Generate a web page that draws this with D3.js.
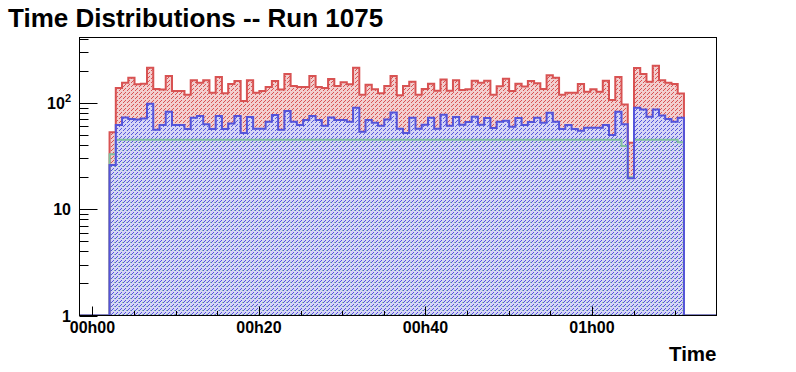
<!DOCTYPE html>
<html>
<head>
<meta charset="utf-8">
<script src="https://cdn.jsdelivr.net/npm/d3@7"></script>
<style>
  body { margin: 0; background: #fff; }
  svg { display: block; }
  text { font-family: "Liberation Sans", Arial, sans-serif; font-weight: bold; fill: #000; }
</style>
</head>
<body>
<div id="chart"></div>
<script>
// Histogram binning (minutes since start of run)
const binStart = 2.05;
const binWidth = 0.75;

// All events (red)
const totalCounts = [
  52.7, 138, 154, 172, 149, 151, 213, 135, 133, 179,
  129, 129, 119, 163, 154, 163, 124, 175, 123, 150,
  160, 104, 163, 124, 129, 141, 160, 133, 186, 144,
  141, 141, 179, 141, 138, 167, 144, 156, 149, 213,
  119, 148, 134, 123, 144, 179, 118, 144, 158, 119,
  135, 151, 130, 166, 130, 163, 132, 134, 161, 154,
  161, 119, 143, 168, 129, 151, 142, 160, 153, 135,
  182, 172, 119, 124, 124, 150, 127, 134, 127, 161,
  106, 175, 96.5, 42.1, 212, 186, 158, 223, 163, 154,
  150, 122
];

// Selected events (blue)
const blueCounts = [
  26.0, 61.7, 72.9, 70.3, 69.8, 71.3, 97.9, 55.8, 61.7, 82.4,
  61.7, 61.7, 56.6, 72.3, 75.0, 62.7, 56.6, 75.0, 56.6, 64.0,
  75.0, 51.9, 73.4, 57.0, 57.0, 66.4, 76.6, 55.8, 83.6, 66.4,
  61.7, 68.8, 75.0, 68.8, 60.9, 72.9, 68.8, 68.8, 66.4, 89.8,
  53.5, 68.8, 64.9, 60.9, 69.8, 81.2, 57.0, 51.9, 72.3, 57.0,
  62.2, 72.3, 57.0, 77.2, 60.9, 73.4, 62.2, 65.9, 73.9, 62.2,
  71.8, 57.9, 66.4, 67.8, 59.6, 71.8, 61.7, 65.9, 72.3, 64.9,
  80.6, 66.4, 56.6, 61.7, 56.6, 54.6, 58.3, 58.3, 58.3, 61.7,
  49.7, 82.4, 62.7, 19.5, 89.8, 86.6, 73.9, 86.6, 76.1, 70.3,
  66.4, 72.3
];

// Reference events (green)
const greenCounts = [
  32.8, 45, 45, 45, 45, 45, 45, 45, 45, 45,
  45, 45, 45, 45, 45, 45, 45, 45, 45, 45,
  45, 45, 45, 45, 45, 45, 45, 45, 45, 45,
  45, 45, 45, 45, 45, 45, 45, 45, 45, 45,
  45, 45, 45, 45, 45, 45, 45, 45, 45, 45,
  45, 45, 45, 45, 45, 45, 45, 45, 45, 45,
  45, 45, 45, 45, 45, 45, 45, 45, 45, 45,
  45, 45, 45, 45, 45, 45, 45, 45, 45, 45,
  45, 45, 39.2, 20, 45, 45, 45, 45, 45, 45,
  45, 42.5
];

const xTickValues = [0, 20, 40, 60];
const xTickLabels = ["00h00", "00h20", "00h40", "01h00"];
const xMinorTicks = [5, 10, 15, 25, 30, 35, 45, 50, 55, 65, 70];
const yMajorTicks = [1, 10, 100];

const width = 796;
const height = 372;
const frame = { left: 79.5, right: 716.5, top: 37.5, bottom: 315.5 };

const svg = d3.select("#chart")
    .append("svg")
    .attr("width", width)
    .attr("height", height);

const x = d3.scaleLinear()
    .domain([-1.56, 74.96])
    .range([frame.left, frame.right]);

const y = d3.scaleLog()
    .domain([1, 411])
    .range([frame.bottom, frame.top]);

// Hatch patterns

const defs = svg.append("defs");

const hatch = (id, bg, color, pixels) => {
    const p = defs.append("pattern")
        .attr("id", id)
        .attr("width", 4)
        .attr("height", 4)
        .attr("patternUnits", "userSpaceOnUse");
    if (bg) {
        p.append("rect")
            .attr("width", 4)
            .attr("height", 4)
            .attr("fill", bg);
    }
    p.selectAll("rect.px")
        .data(pixels)
        .enter()
        .append("rect")
        .attr("class", "px")
        .attr("x", d => d[0])
        .attr("y", d => d[1])
        .attr("width", 1)
        .attr("height", 1)
        .attr("fill", color)
        .attr("shape-rendering", "crispEdges");
};

const colors = { red: "#d85252", blue: "#5454da", green: "#80c09e" };

const diagPixels = [[1, 0], [0, 1], [3, 2]];
hatch("hRed", "#f2cfcf", colors.red, diagPixels);
hatch("hBlue", "#d6d6f6", colors.blue, diagPixels);
hatch("hGreen", null, colors.green, [[2, 2]]);

defs.append("clipPath")
    .attr("id", "frameClip")
    .append("rect")
    .attr("x", frame.left)
    .attr("y", frame.top)
    .attr("width", frame.right - frame.left)
    .attr("height", frame.bottom - frame.top);

// Histograms

const binEdge = i => binStart + i * binWidth;
const binEnd = binEdge(totalCounts.length);

const outlinePoints = counts => {
    const pts = [[x.domain()[0], 1]];
    counts.forEach((c, i) => pts.push([binEdge(i), Math.max(c, 1)]));
    pts.push([binEnd, 1]);
    pts.push([x.domain()[1], 1]);
    return pts;
};

const areaPoints = counts => {
    const pts = counts.map((c, i) => [binEdge(i), Math.max(c, 1)]);
    pts.push([binEnd, counts[counts.length - 1]]);
    return pts;
};

const line = d3.line()
    .x(d => x(d[0]))
    .y(d => y(d[1]))
    .curve(d3.curveStepAfter);

const area = d3.area()
    .x(d => x(d[0]))
    .y0(y(1))
    .y1(d => y(d[1]))
    .curve(d3.curveStepAfter);

const plot = svg.append("g").attr("clip-path", "url(#frameClip)");

const red = { counts: totalCounts, color: colors.red, fill: "url(#hRed)" };
const green = { counts: greenCounts, color: colors.green, fill: "url(#hGreen)" };
const blue = { counts: blueCounts, color: colors.blue, fill: "url(#hBlue)" };

[red, blue, green].forEach(h => {
    plot.append("path")
        .attr("d", area(areaPoints(h.counts)))
        .attr("fill", h.fill)
        .attr("stroke", "none");
});

[red, green, blue].forEach(h => {
    plot.append("path")
        .attr("d", line(outlinePoints(h.counts)))
        .attr("fill", "none")
        .attr("stroke", h.color)
        .attr("stroke-width", 2);
});

// Frame

svg.append("rect")
    .attr("x", frame.left)
    .attr("y", frame.top)
    .attr("width", frame.right - frame.left)
    .attr("height", frame.bottom - frame.top)
    .attr("fill", "none")
    .attr("stroke", "#000")
    .attr("stroke-width", 1);

// Y axis (log)

const yMinor = [];
[1, 10, 100].forEach(dec => {
    for (let k = 2; k <= 9; k++) {
        const v = dec * k;
        if (v < y.domain()[1]) yMinor.push(v);
    }
});

svg.append("g")
    .selectAll("line")
    .data(yMinor)
    .enter()
    .append("line")
    .attr("x1", frame.left)
    .attr("x2", frame.left + 9)
    .attr("y1", d => Math.round(y(d)) + 0.5)
    .attr("y2", d => Math.round(y(d)) + 0.5)
    .attr("stroke", "#000");

svg.append("g")
    .selectAll("line")
    .data(yMajorTicks)
    .enter()
    .append("line")
    .attr("x1", frame.left)
    .attr("x2", frame.left + 18)
    .attr("y1", d => Math.round(y(d)) + 0.5)
    .attr("y2", d => Math.round(y(d)) + 0.5)
    .attr("stroke", "#000");

const yLabels = svg.append("g")
    .selectAll("text")
    .data(yMajorTicks)
    .enter()
    .append("text")
    .attr("x", 71)
    .attr("y", d => y(d) + 6)
    .attr("text-anchor", "end")
    .attr("font-size", 16);

yLabels.filter(d => d < 100).text(d => d);
yLabels.filter(d => d >= 100).each(function(d) {
    const t = d3.select(this);
    t.append("tspan").text("10");
    t.append("tspan")
        .attr("font-size", 11)
        .attr("dy", -7)
        .text(Math.round(Math.log10(d)));
});

// X axis (time)

svg.append("g")
    .selectAll("line")
    .data(xMinorTicks)
    .enter()
    .append("line")
    .attr("x1", d => Math.round(x(d)) + 0.5)
    .attr("x2", d => Math.round(x(d)) + 0.5)
    .attr("y1", frame.bottom)
    .attr("y2", frame.bottom - 4.5)
    .attr("stroke", "#000");

svg.append("g")
    .selectAll("line")
    .data(xTickValues)
    .enter()
    .append("line")
    .attr("x1", d => Math.round(x(d)) + 0.5)
    .attr("x2", d => Math.round(x(d)) + 0.5)
    .attr("y1", frame.bottom)
    .attr("y2", frame.bottom - 9)
    .attr("stroke", "#000");

svg.append("g")
    .selectAll("text")
    .data(xTickValues)
    .enter()
    .append("text")
    .attr("x", d => x(d))
    .attr("y", 333)
    .attr("text-anchor", "middle")
    .attr("font-size", 16)
    .text((d, i) => xTickLabels[i]);

svg.append("text")
    .attr("x", frame.right)
    .attr("y", 361)
    .attr("text-anchor", "end")
    .attr("font-size", 20.5)
    .text("Time");

// Title

svg.append("text")
    .attr("x", 8)
    .attr("y", 27)
    .attr("font-size", 26)
    .text("Time Distributions -- Run 1075");
</script>
</body>
</html>
